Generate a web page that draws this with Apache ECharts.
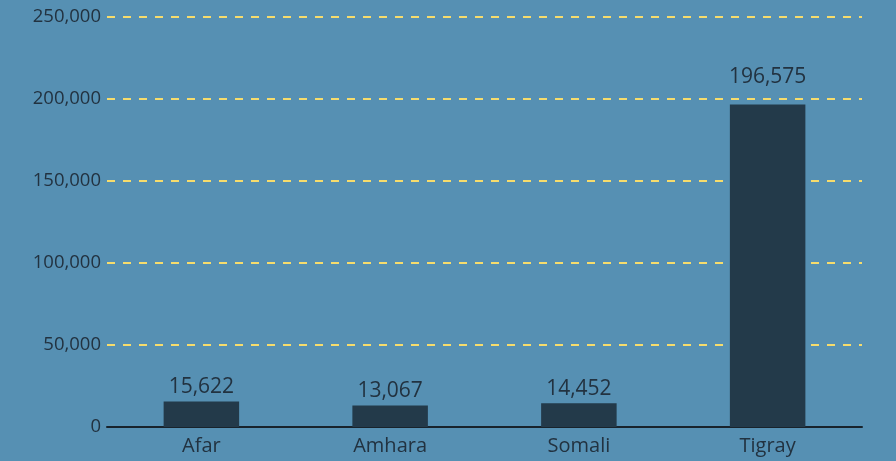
<!DOCTYPE html>
<html>
<head>
<meta charset="utf-8">
<script src="https://cdn.jsdelivr.net/npm/echarts@6/dist/echarts.min.js"></script>
<style>
 html, body { margin: 0; padding: 0; background: #5690b3; }
 #chart { width: 896px; height: 461px; }
</style>
</head>
<body>
<div id="chart"></div>
<script>
// values
const regions = ['Afar', 'Amhara', 'Somali', 'Tigray'];
const displaced = [15622, 13067, 14452, 196575];
const yTicks = [0, 50000, 100000, 150000, 200000, 250000];

const ink = '#223240';
const fmt = v => v.toLocaleString('en-US');
const maxValue = Math.max(...displaced);

const chart = echarts.init(document.getElementById('chart'));
chart.setOption({
  backgroundColor: '#5690b3',
  animation: false,
  textStyle: { fontFamily: 'Open Sans' },
  title: {
    text: 'Internally displaced people by region',
    left: 'center',
    top: -38,
    textStyle: { color: '#f6dc6c', fontSize: 30, fontWeight: 'bold', fontFamily: 'Open Sans' }
  },
  grid: { left: 107, right: 34, top: 17, bottom: 34 },
  xAxis: {
    type: 'category',
    data: regions,
    axisLine: { lineStyle: { color: '#18232c', width: 2 } },
    axisTick: { show: false },
    axisLabel: { color: ink, fontSize: 20, margin: 9 }
  },
  yAxis: {
    type: 'value',
    min: yTicks[0],
    max: yTicks[yTicks.length - 1],
    interval: 50000,
    axisLine: { show: false },
    axisTick: { show: false },
    axisLabel: { color: ink, fontSize: 18.5, margin: 6, formatter: fmt },
    splitLine: { lineStyle: { color: '#f6dc6c', width: 2, type: [8, 8] } }
  },
  series: [{
    type: 'bar',
    // the tallest bar's label sits above the 200k grid line
    data: displaced.map(v => v === maxValue ? { value: v, label: { distance: 17 } } : v),
    barWidth: '40%',
    itemStyle: { color: '#233a4a' },
    label: {
      show: true,
      position: 'top',
      distance: 4,
      color: ink,
      fontSize: 21,
      formatter: p => fmt(p.value)
    }
  }]
});
</script>
</body>
</html>
